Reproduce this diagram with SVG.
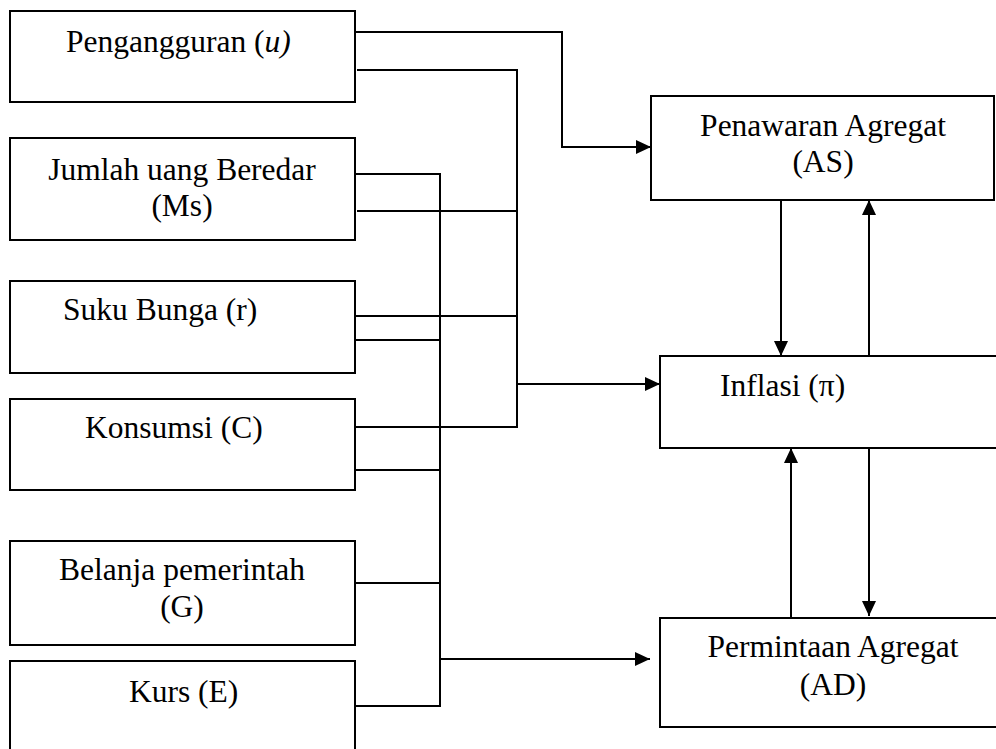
<svg xmlns="http://www.w3.org/2000/svg" width="996" height="749" viewBox="0 0 996 749">
<defs>
<style>
.box{fill:#fff;stroke:#000;stroke-width:2}
.t{font-family:"Liberation Serif","Times New Roman",serif;font-size:31.5px;fill:#000}
.c{text-anchor:middle}
.ln{fill:none;stroke:#000;stroke-width:2}
</style>
<marker id="ah" viewBox="0 0 15 14" refX="15" refY="7" markerWidth="15" markerHeight="14" markerUnits="userSpaceOnUse" orient="auto">
<path d="M0,0 L15,7 L0,14 Z" fill="#000"/>
</marker>
</defs>
<rect width="996" height="749" fill="#fff"/>
<g id="n-pengangguran"><rect class="box" x="10" y="11" width="345" height="91"/><text class="t" x="66" y="52">Pengangguran (<tspan font-style="italic">u)</tspan></text></g>
<g id="n-jumlah"><rect class="box" x="10" y="138" width="345" height="102"/><text class="t c" x="182" y="180">Jumlah uang Beredar</text><text class="t c" x="182" y="216">(Ms)</text></g>
<g id="n-suku"><rect class="box" x="10" y="281" width="345" height="92"/><text class="t" x="63" y="320">Suku Bunga (r)</text></g>
<g id="n-konsumsi"><rect class="box" x="10" y="399" width="345" height="91"/><text class="t" x="85" y="438">Konsumsi (C)</text></g>
<g id="n-belanja"><rect class="box" x="10" y="541" width="345" height="104"/><text class="t c" x="182" y="580">Belanja pemerintah</text><text class="t c" x="182" y="617">(G)</text></g>
<g id="n-kurs"><rect class="box" x="10" y="661" width="345" height="100"/><text class="t" x="129" y="702">Kurs (E)</text></g>
<g id="n-as"><rect class="box" x="651" y="96" width="343" height="104"/><text class="t c" x="823" y="136">Penawaran Agregat</text><text class="t c" x="823" y="172">(AS)</text></g>
<g id="n-inflasi"><rect class="box" x="660" y="356" width="345" height="92"/><text class="t" x="720" y="396">Inflasi (π)</text></g>
<g id="n-ad"><rect class="box" x="660" y="618" width="345" height="109"/><text class="t c" x="833" y="657">Permintaan Agregat</text><text class="t c" x="833" y="695">(AD)</text></g>
<g id="connectors">
<path class="ln" d="M355,32 H562 V147 H651" marker-end="url(#ah)"/>
<path class="ln" d="M357,70 H517 V427 H355"/>
<path class="ln" d="M357,211 H517"/>
<path class="ln" d="M355,316 H517"/>
<path class="ln" d="M517,384 H660" marker-end="url(#ah)"/>
<path class="ln" d="M355,174 H440 V706 H355"/>
<path class="ln" d="M355,340 H440"/>
<path class="ln" d="M355,470 H441"/>
<path class="ln" d="M355,583 H440"/>
<path class="ln" d="M440,659 H650" marker-end="url(#ah)"/>
<path class="ln" d="M781,200 V356" marker-end="url(#ah)"/>
<path class="ln" d="M869,356 V200" marker-end="url(#ah)"/>
<path class="ln" d="M791,618 V448" marker-end="url(#ah)"/>
<path class="ln" d="M869,448 V616" marker-end="url(#ah)"/>
</g>
</svg>
